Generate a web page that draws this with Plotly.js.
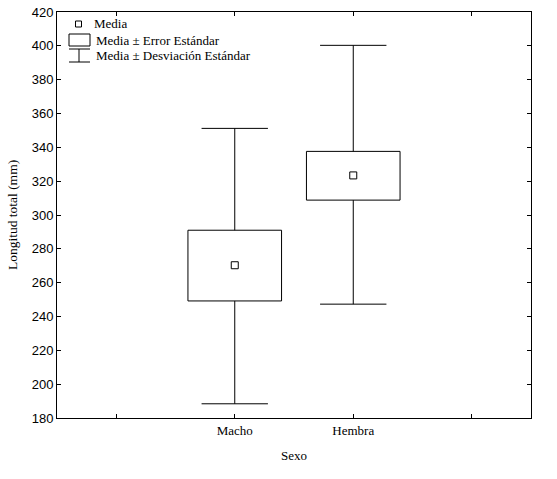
<!DOCTYPE html>
<html>
<head>
<meta charset="utf-8">
<script src="https://cdn.plot.ly/plotly-3.0.1.min.js"></script>
<style>html,body{margin:0;padding:0;background:#fff;}#chart{width:557px;height:479px;}</style>
</head>
<body>
<div id="chart"></div>
<script>
// Data
const categories = ['Macho', 'Hembra'];
const means = [270.3, 323.4];
const seLow = [249.2, 308.8];
const seHigh = [291.0, 337.6];
const sdLow = [188.4, 247.3];
const sdHigh = [351.2, 400.3];
const xTickLabels = ['', 'Macho', 'Hembra', ''];

const xpos = categories.map((c, i) => i + 1);
const capHalf = 0.28;

const L = 57, R = 531, T = 12, B = 418;
const W = 557, H = 479;
function px(x) { return (x - L) / (R - L); }
function py(y) { return (B - y) / (B - T); }

// Mean ± SE boxes
const boxTrace = {
  type: 'bar',
  x: xpos,
  base: seLow,
  y: seHigh.map((v, i) => v - seLow[i]),
  width: 0.79,
  marker: { color: '#fff', line: { color: '#000', width: 1 } },
  hoverinfo: 'skip',
  showlegend: false
};

// Mean ± SD whiskers (outside the boxes) with caps
const wx = [], wy = [];
xpos.forEach((x, i) => {
  wx.push(x, x, null, x - capHalf, x + capHalf, null);
  wy.push(seHigh[i], sdHigh[i], null, sdHigh[i], sdHigh[i], null);
  wx.push(x, x, null, x - capHalf, x + capHalf, null);
  wy.push(seLow[i], sdLow[i], null, sdLow[i], sdLow[i], null);
});
const whiskerTrace = {
  type: 'scatter',
  mode: 'lines',
  x: wx,
  y: wy,
  line: { color: '#000', width: 1 },
  connectgaps: false,
  hoverinfo: 'skip',
  showlegend: false
};

const meanTrace = {
  type: 'scatter',
  mode: 'markers',
  x: xpos,
  y: means,
  marker: { symbol: 'square-open', size: 7, color: '#000', line: { width: 1, color: '#000' } },
  hoverinfo: 'skip',
  showlegend: false
};

const serif = 'Liberation Serif, Times New Roman, serif';
const sans = 'Liberation Sans, Arial, sans-serif';

const shapes = [
  { type: 'rect', xref: 'paper', yref: 'paper', x0: px(75.5), x1: px(81.5), y0: py(27), y1: py(21), line: { color: '#000', width: 1 } },
  { type: 'rect', xref: 'paper', yref: 'paper', x0: px(69), x1: px(90), y0: py(46), y1: py(34), line: { color: '#000', width: 1 } },
  { type: 'line', xref: 'paper', yref: 'paper', x0: px(69), x1: px(90), y0: py(49), y1: py(49), line: { color: '#000', width: 1 } },
  { type: 'line', xref: 'paper', yref: 'paper', x0: px(79), x1: px(79), y0: py(49), y1: py(62), line: { color: '#000', width: 1 } },
  { type: 'line', xref: 'paper', yref: 'paper', x0: px(69), x1: px(90), y0: py(62), y1: py(62), line: { color: '#000', width: 1 } }
];

const legendFont = { family: serif, size: 13, color: '#000' };
const annotations = [
  { xref: 'paper', yref: 'paper', x: px(92), y: py(24), xanchor: 'left', yanchor: 'middle', text: 'Media', showarrow: false, font: legendFont },
  { xref: 'paper', yref: 'paper', x: px(94), y: py(40), xanchor: 'left', yanchor: 'middle', text: 'Media ± Error Estándar', showarrow: false, font: legendFont },
  { xref: 'paper', yref: 'paper', x: px(94), y: py(56), xanchor: 'left', yanchor: 'middle', text: 'Media ± Desviación Estándar', showarrow: false, font: legendFont }
];

const layout = {
  width: W, height: H,
  margin: { l: L, r: W - R, t: T, b: H - B, pad: 0 },
  paper_bgcolor: '#fff',
  plot_bgcolor: '#fff',
  showlegend: false,
  hovermode: false,
  bargap: 0,
  xaxis: {
    range: [-0.5, 3.5],
    tickvals: [0, 1, 2, 3],
    ticktext: xTickLabels,
    ticks: 'inside', ticklen: 4, tickcolor: '#000', tickwidth: 1,
    showline: true, linecolor: '#000', linewidth: 1, mirror: 'ticks',
    showgrid: false, zeroline: false,
    tickfont: { family: serif, size: 13, color: '#000' },
    title: { text: 'Sexo', font: { family: serif, size: 13, color: '#000' }, standoff: 14 }
  },
  yaxis: {
    range: [180, 420],
    tickvals: [180, 200, 220, 240, 260, 280, 300, 320, 340, 360, 380, 400, 420],
    ticks: 'inside', ticklen: 4, tickcolor: '#000', tickwidth: 1,
    showline: true, linecolor: '#000', linewidth: 1, mirror: 'ticks',
    showgrid: false, zeroline: false,
    tickfont: { family: sans, size: 13, color: '#000' },
    title: { text: 'Longitud total (mm)', font: { family: serif, size: 13.5, color: '#000' }, standoff: 10 }
  },
  shapes: shapes,
  annotations: annotations
};

Plotly.newPlot('chart', [boxTrace, whiskerTrace, meanTrace], layout, { displayModeBar: false, staticPlot: true });
</script>
</body>
</html>
